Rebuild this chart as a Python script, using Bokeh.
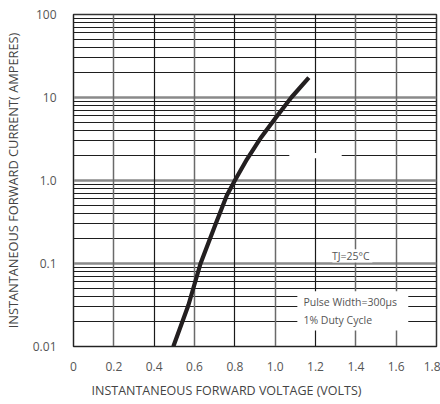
from bokeh.plotting import figure
from bokeh.models import FixedTicker, Grid, ColumnDataSource, Range1d, Title
from bokeh.core.properties import value
from bokeh.embed import file_html
from bokeh.resources import INLINE

# data
volts = [0.495, 0.57, 0.63, 0.70, 0.76, 0.80, 0.86, 0.93, 1.00, 1.08, 1.167]
amps = [0.01, 0.0316, 0.1, 0.28, 0.66, 1.0, 1.8, 3.3, 5.6, 10.0, 17.4]

x_ticks = [0, 0.2, 0.4, 0.6, 0.8, 1.0, 1.2, 1.4, 1.6, 1.8]
x_labels = ["0", "0.2", "0.4", "0.6", "0.8", "1.0", "1.2", "1.4", "1.6", "1.8"]
y_ticks = [0.01, 0.1, 1, 10, 100]
y_labels = ["0.01", "0.1", "1.0", "10", "100"]
y_minor = [k * 10.0 ** d for d in range(-2, 2) for k in range(2, 10)]

x_title = "INSTANTANEOUS FORWARD VOLTAGE (VOLTS)"
y_title = "INSTANTANEOUS FORWARD CURRENT( AMPERES)"
note_tj = "TJ=25°C"
note_pulse = ["Pulse Width=300μs", "1% Duty Cycle"]

FONT = "Open Sans"
TXT = "#555555"

p = figure(width=440, height=404, y_axis_type="log",
           x_range=Range1d(0, 1.8), y_range=Range1d(0.01, 100),
           output_backend="svg", toolbar_location=None,
           min_border_left=73, min_border_right=4,
           min_border_top=14, min_border_bottom=58)
p.outline_line_color = "#333333"
p.outline_line_width = 1.5

# axes
p.xaxis.ticker = FixedTicker(ticks=x_ticks)
p.xaxis.major_label_overrides = {t: l for t, l in zip(x_ticks, x_labels)}
p.yaxis.ticker = FixedTicker(ticks=y_ticks, minor_ticks=y_minor)
p.yaxis.major_label_overrides = {t: l for t, l in zip(y_ticks, y_labels)}
for ax in (p.xaxis[0], p.yaxis[0]):
    ax.major_tick_line_color = None
    ax.minor_tick_line_color = None
    ax.axis_line_color = "#222222"
    ax.major_label_text_font = FONT
    ax.major_label_text_font_size = "12px"
    ax.major_label_text_color = TXT
    ax.axis_label_text_font = FONT
    ax.axis_label_text_font_size = "12.8px"
    ax.axis_label_text_font_style = "normal"
    ax.axis_label_text_color = "#444444"
p.yaxis.axis_label = y_title
p.xaxis.major_label_standoff = 9
p.yaxis.major_label_standoff = 11
p.yaxis.axis_label_standoff = 8

# x title as a panel title (the reference has it left of centre)
p.add_layout(Title(text=x_title, align="left", offset=18, standoff=12,
                   text_font=FONT, text_font_size="12.5px",
                   text_font_style="normal", text_color="#444444"), "below")

# grids
p.xgrid.grid_line_color = None
gx1 = Grid(dimension=0, ticker=FixedTicker(ticks=[0.2, 0.6, 1.0, 1.4, 1.6]),
           grid_line_color="#6a6a6a", grid_line_width=1.5)
gx2 = Grid(dimension=0, ticker=FixedTicker(ticks=[0.4, 0.8, 1.2]),
           grid_line_color="#1a1a1a", grid_line_width=1.2)
p.add_layout(gx1)
p.add_layout(gx2)
p.ygrid.grid_line_color = "#8a8a8a"
p.ygrid.grid_line_width = 2.5
p.ygrid.minor_grid_line_color = "#1e1e1e"
p.ygrid.minor_grid_line_width = 1.0

# white patch over a grid line
p.quad(left=[1.07], right=[1.33], bottom=[1.85], top=[2.15],
       fill_color="white", line_color=None)

# note boxes
p.quad(left=[1.284], right=[1.482], bottom=[0.103], top=[0.148],
       fill_color="white", line_color=None)
p.quad(left=[1.11], right=[1.66], bottom=[0.0156], top=[0.0464],
       fill_color="white", line_color=None)

# curve
src = ColumnDataSource(dict(v=volts, i=amps))
p.line("v", "i", source=src, line_color="#231f20", line_width=4.2,
       line_join="round")

# texts
p.text(x=[1.375], y=[0.122], text=[note_tj], text_font=value(FONT),
       text_font_size="10.5px", text_color=TXT, text_align="center",
       text_baseline="middle")
p.text(x=[1.14, 1.14], y=[0.0347, 0.0209], text=note_pulse,
       text_font=value(FONT), text_font_size="10.5px", text_color=TXT,
       text_align="left", text_baseline="middle")

open("out.html", "w").write(file_html(p, INLINE))
